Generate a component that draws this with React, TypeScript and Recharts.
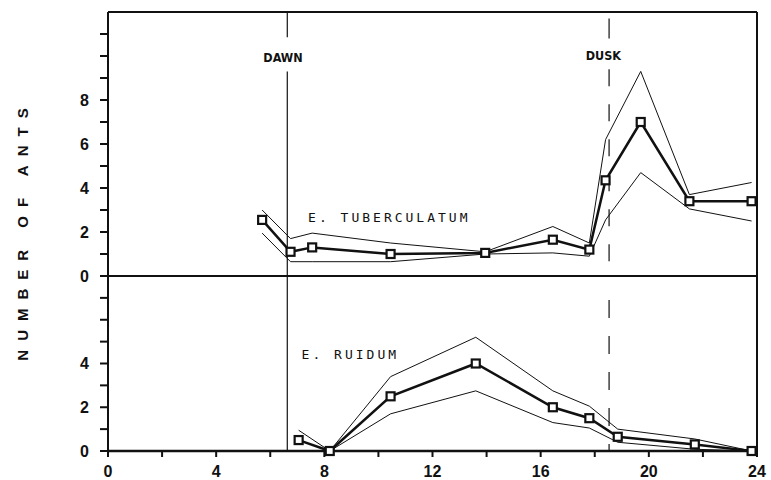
import React from 'react'
import { LineChart, Line, XAxis, YAxis, ReferenceLine, ReferenceDot } from 'recharts'

// E. tuberculatum (upper panel): hour of day, mean and band
const tubHour = [5.7, 6.75, 7.55, 10.45, 13.95, 16.45, 17.8, 18.4, 19.7, 21.5, 23.8]
const tubMean = [2.55, 1.1, 1.3, 1.0, 1.05, 1.65, 1.2, 4.35, 7.0, 3.4, 3.4]
const tubUpper = [3.0, 1.7, 1.95, 1.5, 1.1, 2.25, 1.5, 6.2, 9.3, 3.7, 4.25]
const tubLower = [1.95, 0.65, 0.65, 0.65, 1.0, 1.05, 0.9, 2.55, 4.7, 3.05, 2.5]

// E. ruidum (lower panel)
const rudHour = [7.05, 8.2, 10.45, 13.6, 16.45, 17.8, 18.85, 21.7, 23.8]
const rudMean = [0.5, 0, 2.5, 4.0, 2.0, 1.5, 0.65, 0.3, 0]
const rudUpper = [0.95, 0, 3.4, 5.2, 2.75, 2.05, 1.0, 0.55, 0]
const rudLower = [null, 0, 1.7, 2.75, 1.3, 1.05, 0.4, 0.08, 0]

const xTicks = [0, 2, 4, 6, 8, 10, 12, 14, 16, 18, 20, 22, 24]
const topTicks = [0, 1, 2, 3, 4, 5, 6, 7, 8, 9, 10, 11]
const bottomTicks = [0, 1, 2, 3, 4, 5, 6, 7]

const DAWN = 6.63
const DUSK = 18.53

const tubRows = tubHour.map((h, i) => ({ hour: h, mean: tubMean[i], upper: tubUpper[i], lower: tubLower[i] }))
const rudRows = rudHour.map((h, i) => ({ hour: h, mean: rudMean[i], upper: rudUpper[i], lower: rudLower[i] }))

const INK = '#111'
const tickFont = { fontFamily: 'Liberation Sans, Arial, sans-serif', fontWeight: 700, fontSize: 16, fill: INK }

const SquareDot = (props: any) => {
  const { cx, cy } = props
  if (cx == null || cy == null) return null
  return <rect x={cx - 4} y={cy - 4} width={8} height={8} fill="#fff" stroke={INK} strokeWidth={2.2} />
}

const textAt = (text: string, anchor: 'start' | 'middle', mono: boolean) => (p: any) => {
  const vb = p.viewBox || {}
  return (
    <text
      x={vb.x}
      y={vb.y}
      textAnchor={anchor}
      fill={INK}
      fontFamily={mono ? 'DejaVu Sans Mono, monospace' : 'DejaVu Sans Condensed, DejaVu Sans, sans-serif'}
      fontSize={mono ? 13 : 12.5}
      fontWeight={mono ? 400 : 700}
      letterSpacing={mono ? 3 : 0}
    >
      {text}
    </text>
  )
}

const topLabel = (v: number) => (v % 2 === 0 && v <= 8 ? String(v) : '')
const bottomLabel = (v: number) => (v % 2 === 0 && v <= 4 ? String(v) : '')

function Series() {
  return [
    <Line key="u" dataKey="upper" stroke={INK} strokeWidth={1} dot={false} isAnimationActive={false} />,
    <Line key="l" dataKey="lower" stroke={INK} strokeWidth={1} dot={false} isAnimationActive={false} />,
    <Line key="m" dataKey="mean" stroke={INK} strokeWidth={2.5} dot={<SquareDot />} isAnimationActive={false} />,
  ]
}

export default function App() {
  return (
    <div style={{ position: 'absolute', left: 0, top: 0, width: 771, height: 480, background: '#fff' }}>
      <LineChart
        width={771}
        height={292}
        data={tubRows}
        margin={{ top: 12, right: 14, left: 48, bottom: 16 }}
        style={{ position: 'absolute', left: 0, top: 0 }}
      >
        <XAxis dataKey="hour" type="number" domain={[0, 24]} hide />
        <YAxis
          type="number"
          domain={[0, 12]}
          ticks={topTicks}
          interval={0}
          width={60}
          tickFormatter={topLabel}
          tick={tickFont}
          tickSize={8}
          tickMargin={11}
          axisLine={{ stroke: INK, strokeWidth: 2 }}
          tickLine={{ stroke: INK, strokeWidth: 2 }}
        />
        <ReferenceLine y={12} stroke={INK} strokeWidth={2} />
        <ReferenceLine y={0} stroke={INK} strokeWidth={2} />
        <ReferenceLine x={24} stroke={INK} strokeWidth={2} />
        <ReferenceLine segment={[{ x: DAWN, y: 12 }, { x: DAWN, y: 10.85 }]} stroke={INK} strokeWidth={1.2} />
        <ReferenceLine segment={[{ x: DAWN, y: 9.3 }, { x: DAWN, y: 0 }]} stroke={INK} strokeWidth={1.2} />
        <ReferenceLine segment={[{ x: DUSK, y: 11.7 }, { x: DUSK, y: 10.8 }]} stroke={INK} strokeWidth={1.2} />
        <ReferenceLine
          segment={[{ x: DUSK, y: 9.4 }, { x: DUSK, y: 0 }]}
          stroke={INK}
          strokeWidth={1.2}
          strokeDasharray="17 18"
        />
        <ReferenceDot x={6.47} y={9.75} r={0} fill="none" stroke="none" label={textAt('DAWN', 'middle', false)} />
        <ReferenceDot x={18.32} y={9.8} r={0} fill="none" stroke="none" label={textAt('DUSK', 'middle', false)} />
        <ReferenceDot x={7.4} y={2.47} r={0} fill="none" stroke="none" label={textAt('E. TUBERCULATUM', 'start', true)} />
        {Series()}
      </LineChart>

      <LineChart
        width={771}
        height={214}
        data={rudRows}
        margin={{ top: 10, right: 14, left: 48, bottom: 0 }}
        style={{ position: 'absolute', left: 0, top: 266 }}
      >
        <XAxis
          dataKey="hour"
          type="number"
          domain={[0, 24]}
          ticks={xTicks}
          interval={0}
          height={29}
          tickFormatter={(v: number) => (v % 4 === 0 ? String(v) : '')}
          tick={tickFont}
          tickSize={6}
          tickMargin={9}
          axisLine={{ stroke: INK, strokeWidth: 2.5 }}
          tickLine={{ stroke: INK, strokeWidth: 2 }}
        />
        <YAxis
          type="number"
          domain={[0, 8]}
          ticks={bottomTicks}
          interval={0}
          width={60}
          tickFormatter={bottomLabel}
          tick={tickFont}
          tickSize={8}
          tickMargin={11}
          axisLine={{ stroke: INK, strokeWidth: 2 }}
          tickLine={{ stroke: INK, strokeWidth: 2 }}
        />
        <ReferenceLine x={24} stroke={INK} strokeWidth={2} />
        <ReferenceLine segment={[{ x: DAWN, y: 8 }, { x: DAWN, y: 0 }]} stroke={INK} strokeWidth={1.2} />
        <ReferenceLine
          segment={[{ x: DUSK, y: 6.9 }, { x: DUSK, y: 0 }]}
          stroke={INK}
          strokeWidth={1.2}
          strokeDasharray="18 18"
        />
        <ReferenceDot x={7.16} y={4.21} r={0} fill="none" stroke="none" label={textAt('E. RUIDUM', 'start', true)} />
        {Series()}
      </LineChart>

      <div
        style={{
          position: 'absolute',
          left: 22,
          top: 230,
          transform: 'translate(-50%, -50%) rotate(-90deg)',
          whiteSpace: 'nowrap',
          fontFamily: 'Liberation Sans, Arial, sans-serif',
          fontWeight: 700,
          fontSize: 15,
          letterSpacing: 9,
          color: INK,
        }}
      >
        NUMBER OF ANTS
      </div>
    </div>
  )
}
